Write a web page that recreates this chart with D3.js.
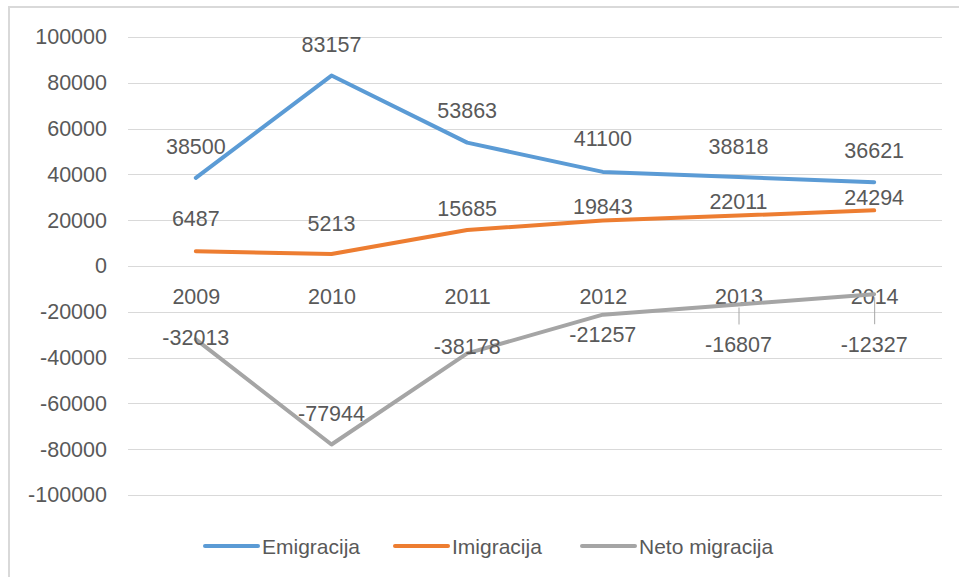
<!DOCTYPE html>
<html>
<head>
<meta charset="utf-8">
<script src="https://cdn.jsdelivr.net/npm/d3@7"></script>
<style>
  body { margin: 0; background: #fff; }
  text { font-family: "Liberation Sans", Arial, sans-serif; fill: #595959; }
</style>
</head>
<body>
<div id="chart"></div>
<script>
// Data
var years = ["2009", "2010", "2011", "2012", "2013", "2014"];
var emigracija = [38500, 83157, 53863, 41100, 38818, 36621];
var imigracija = [6487, 5213, 15685, 19843, 22011, 24294];
var netoMigracija = [-32013, -77944, -38178, -21257, -16807, -12327];
var yTicks = [100000, 80000, 60000, 40000, 20000, 0, -20000, -40000, -60000, -80000, -100000];
var seriesNames = ["Emigracija", "Imigracija", "Neto migracija"];

// Label nudges (label centre relative to point, px) - as placed in the original
var labelDy = [
  [-32, -31, -32, -34, -31, -32],
  [-33, -31, -22, -14, -14, -13],
  [-2, -31, -7, 20, 40, 50]
];
// points whose label got a leader line
var leaders = [[2, 4], [2, 5]];

var svgWidth = 959;
var svgHeight = 577;
var margin = { top: 37, right: 17, bottom: 82, left: 128 };
var colors = ["#5B9BD5", "#ED7D31", "#A5A5A5"];

var svg = d3.select("#chart")
  .append("svg")
  .attr("width", svgWidth)
  .attr("height", svgHeight);

// chart border
svg.append("rect")
  .attr("x", 9).attr("y", 7)
  .attr("width", 1000).attr("height", 700)
  .attr("fill", "none")
  .attr("stroke", "#d9d9d9")
  .attr("stroke-width", 2);

var x = d3.scalePoint()
  .domain(years)
  .range([margin.left, svgWidth - margin.right])
  .padding(0.5);

var y = d3.scaleLinear()
  .domain([-100000, 100000])
  .range([svgHeight - margin.bottom, margin.top]);

// gridlines
svg.append("g")
  .selectAll("line")
  .data(yTicks)
  .join("line")
  .attr("x1", margin.left)
  .attr("x2", svgWidth - margin.right)
  .attr("y1", d => Math.round(y(d)) + 0.5)
  .attr("y2", d => Math.round(y(d)) + 0.5)
  .attr("stroke", "#d9d9d9")
  .attr("stroke-width", 1);

// y axis labels (plain hyphen for negatives, like the original)
var yAxis = d3.axisLeft(y).tickValues(yTicks).tickSize(0).tickPadding(0).tickFormat(d => String(d));
var gy = svg.append("g")
  .attr("transform", `translate(107,0)`)
  .call(yAxis);
gy.select(".domain").remove();
gy.selectAll("text")
  .attr("font-size", "21.5px")
  .attr("font-family", "Liberation Sans, Arial, sans-serif")
  .attr("fill", "#595959");

// x axis labels (sit below the zero line)
var xAxis = d3.axisBottom(x).tickSize(0).tickPadding(0);
var gx = svg.append("g")
  .attr("transform", `translate(0,${y(0) + 23})`)
  .call(xAxis);
gx.select(".domain").remove();
gx.selectAll("text")
  .attr("font-size", "21.5px")
  .attr("font-family", "Liberation Sans, Arial, sans-serif")
  .attr("fill", "#595959");

var series = [emigracija, imigracija, netoMigracija];

var line = d3.line()
  .x((d, i) => x(years[i]))
  .y(d => y(d));

// leader lines
leaders.forEach(l => {
  var s = l[0], i = l[1];
  svg.append("line")
    .attr("x1", x(years[i]) + 0.5)
    .attr("x2", x(years[i]) + 0.5)
    .attr("y1", y(series[s][i]) + 3)
    .attr("y2", y(series[s][i]) + labelDy[s][i] - 20)
    .attr("stroke", "#a6a6a6")
    .attr("stroke-width", 1);
});

series.forEach((s, k) => {
  svg.append("path")
    .datum(s)
    .attr("d", line)
    .attr("fill", "none")
    .attr("stroke", colors[k])
    .attr("stroke-width", 4)
    .attr("stroke-linecap", "round")
    .attr("stroke-linejoin", "round");
});

// data labels
series.forEach((s, k) => {
  svg.append("g")
    .selectAll("text")
    .data(s)
    .join("text")
    .attr("x", (d, i) => x(years[i]))
    .attr("y", (d, i) => y(d) + labelDy[k][i])
    .attr("dy", "0.36em")
    .attr("text-anchor", "middle")
    .attr("font-size", "21.5px")
    .text(d => d);
});

// legend
var legendX = [205, 395, 582];
var legend = svg.append("g");
seriesNames.forEach((name, k) => {
  legend.append("line")
    .attr("x1", legendX[k]).attr("x2", legendX[k] + 53)
    .attr("y1", 546).attr("y2", 546)
    .attr("stroke", colors[k])
    .attr("stroke-width", 4)
    .attr("stroke-linecap", "round");
  legend.append("text")
    .attr("x", legendX[k] + 57)
    .attr("y", 546)
    .attr("dy", "0.36em")
    .attr("font-size", "21px")
    .text(name);
});
</script>
</body>
</html>
